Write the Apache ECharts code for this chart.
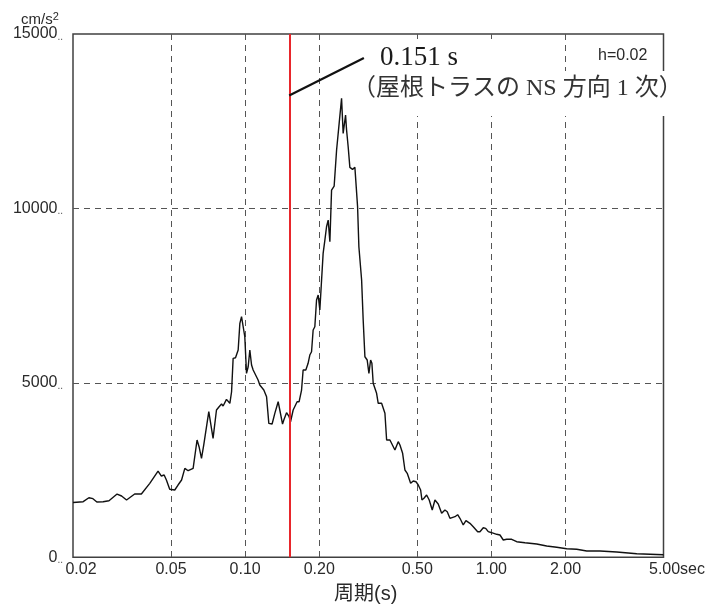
<!DOCTYPE html>
<html>
<head>
<meta charset="utf-8">
<script src="https://cdn.jsdelivr.net/npm/echarts@6/dist/echarts.min.js"></script>
<style>html,body{margin:0;padding:0;background:#fff}#c{width:711px;height:610px}</style>
</head>
<body>
<div id="c"></div>
<script>
// ---- data ----
const xTickValues = [0.02, 0.05, 0.1, 0.2, 0.5, 1, 2, 5];
const xTickLabels = ['0.02', '0.05', '0.10', '0.20', '0.50', '1.00', '2.00', '5.00'];
const yTicks = [0, 5000, 10000, 15000];
const markedPeriod = 0.151;
const dampingLabel = 'h=0.02';

const periods = [
  0.0200,0.0220,0.0232,0.0241,0.0250,0.0265,0.0280,0.0302,0.0315,0.0330,
  0.0356,0.0379,0.0410,0.0443,0.0457,0.0469,0.0479,0.0494,0.0518,0.0534,
  0.0552,0.0569,0.0587,0.0615,0.0638,0.0650,0.0665,0.0679,0.0712,0.0725,
  0.0741,0.0765,0.0784,0.0802,0.0814,0.0840,0.0867,0.0881,0.0894,0.0914,
  0.0937,0.0952,0.0967,0.0982,0.0997,0.1013,0.1029,0.1045,0.1062,0.1078,
  0.1095,0.1129,0.1147,0.1191,0.1222,0.1248,0.1287,0.1320,0.1362,0.1383,
  0.1419,0.1436,0.1473,0.1509,0.1529,0.1567,0.1626,0.1657,0.1695,0.1720,
  0.1764,0.1802,0.1831,0.1861,0.1889,0.1919,0.1950,0.1980,0.2011,0.2044,
  0.2074,0.2108,0.2141,0.2174,0.2209,0.2244,0.2299,0.2352,0.2409,0.2464,
  0.2501,0.2558,0.2582,0.2621,0.2663,0.2731,0.2791,0.2836,0.2862,0.2897,
  0.2972,0.3016,0.3065,0.3131,0.3182,0.3233,0.3272,0.3312,0.3365,0.3419,
  0.3471,0.3583,0.3696,0.3755,0.3873,0.3935,0.4058,0.4186,0.4253,0.4361,
  0.4456,0.4553,0.4700,0.4816,0.4939,0.5047,0.5161,0.5224,0.5323,0.5458,
  0.5592,0.5752,0.5899,0.6084,0.6281,0.6478,0.6619,0.6788,0.7113,0.7295,
  0.7453,0.7687,0.7884,0.8184,0.8441,0.8796,0.8987,0.9269,0.9480,0.9713,
  1.0027,1.0508,1.0837,1.1177,1.1538,1.2091,1.2670,1.3692,1.5275,1.6776,
  1.8422,2.0226,2.2210,2.4392,2.762,3.229,3.894,5.0
];
const accel = [
  1570,1594,1708,1680,1585,1594,1622,1814,1757,1642,
  1814,1814,2120,2473,2330,2359,2215,1949,1929,2072,
  2215,2550,2482,2550,3362,3170,2837,3218,4173,4127,
  3410,4222,4316,4394,4336,4528,4414,4746,5703,5720,
  5941,6706,6896,6944,6322,5273,5463,5941,5511,5368,
  5348,5081,4938,4795,4603,3840,3820,4127,4460,4222,
  3820,3935,4144,4030,3886,4222,4460,4460,4795,5368,
  5368,5560,5798,5893,6515,6610,7374,7518,7088,7948,
  8712,9094,9476,9667,9046,10527,10642,11674,12438,13155,
  12152,12677,12247,11768,11178,11120,11178,11149,10048,8902,
  7948,6801,5749,5655,5273,5655,5560,4987,4938,4700,
  4414,4414,4127,3362,3362,3342,3075,3314,3218,2981,
  2502,2407,2120,2187,2167,2072,1929,1642,1691,1786,
  1642,1356,1642,1528,1261,1356,1307,1118,1164,1221,
  1118,926,1049,974,877,734,734,848,831,734,
  705,659,639,496,516,516,447,418,381,324,
  287,247,229,181,181,152,103,75
];
// leader line of the annotation (period, value) endpoints
const leaderStart = [0.151, 13240];
const leaderEnd = [0.3036, 14310];

// ---- build ----
const L = Math.log10;
const seriesData = periods.map((p, i) => [L(p), accel[i]]);
const xCustom = xTickValues.map(L);

function xLabel(v) {
  let idx = 0, best = 1e9;
  xCustom.forEach((c, i) => { const d = Math.abs(c - v); if (d < best) { best = d; idx = i; } });
  const t = xTickLabels[idx];
  if (idx === 0) return '{f|' + t + '}';
  if (idx === xTickLabels.length - 1) return '{l|' + t + '}{s|sec}';
  return '{n|' + t + '}';
}

const FONT = "'Liberation Sans', Arial, sans-serif";
const chart = echarts.init(document.getElementById('c'), null, {renderer: 'canvas'});
chart.setOption({
  animation: false,
  backgroundColor: '#fff',
  grid: {
    left: 73, right: 47.5, top: 34, bottom: 52.7,
    outerBoundsMode: 'none', containLabel: false,
    show: true, borderColor: '#404040', borderWidth: 1.5, backgroundColor: 'transparent'
  },
  xAxis: {
    type: 'value',
    min: L(xTickValues[0]), max: L(xTickValues[xTickValues.length - 1]),
    axisLine: {show: false},
    axisTick: {show: false, customValues: xCustom},
    axisLabel: {
      customValues: xCustom, margin: 4, formatter: xLabel, color: '#2a2a2a',
      fontFamily: FONT, fontSize: 16,
      rich: {
        n: {fontFamily: FONT, fontSize: 16, color: '#2a2a2a'},
        f: {fontFamily: FONT, fontSize: 16, color: '#2a2a2a', padding: [0, 0, 0, 16]},
        l: {fontFamily: FONT, fontSize: 16, color: '#2a2a2a', padding: [0, 0, 0, 27]},
        s: {fontFamily: FONT, fontSize: 16, color: '#2a2a2a'}
      }
    },
    splitLine: {show: true, showMinLine: false, showMaxLine: false,
      lineStyle: {color: '#555', width: 1, type: [6, 5]}},
    name: '周期(s)', nameLocation: 'middle', nameGap: 27,
    nameTextStyle: {fontFamily: "'Liberation Sans','Noto Sans CJK JP',sans-serif", fontSize: 20, color: '#2a2a2a', padding: [0, 5, 0, 0]}
  },
  yAxis: {
    type: 'value', min: yTicks[0], max: yTicks[yTicks.length - 1], interval: yTicks[1] - yTicks[0],
    axisLine: {show: false}, axisTick: {show: false},
    axisLabel: {
      margin: 10, color: '#2a2a2a', fontFamily: FONT, fontSize: 16,
      formatter: v => '{n|' + v + '}{d|..}',
      rich: {
        n: {fontFamily: FONT, fontSize: 16, color: '#2a2a2a'},
        d: {fontFamily: FONT, fontSize: 10, color: '#555', verticalAlign: 'bottom', padding: [5, 0, 0, 0]}
      }
    },
    splitLine: {show: true, showMinLine: false, showMaxLine: false,
      lineStyle: {color: '#555', width: 1, type: [6, 5]}}
  },
  series: [{
    type: 'line',
    data: seriesData,
    showSymbol: false, symbol: 'none',
    lineStyle: {color: '#111', width: 1.4},
    z: 3,
    markLine: {
      silent: true, symbol: 'none', animation: false,
      label: {show: false},
      data: [
        {xAxis: L(markedPeriod), lineStyle: {color: '#e8262b', width: 2, type: 'solid'}},
        [
          {coord: [L(leaderStart[0]), leaderStart[1]], lineStyle: {color: '#111', width: 2.2, type: 'solid'}},
          {coord: [L(leaderEnd[0]), leaderEnd[1]]}
        ]
      ]
    }
  }],
  graphic: [
    {type: 'rect', z: 100, shape: {x: 366, y: 39, width: 190, height: 33}, style: {fill: '#fff'}},
    {type: 'rect', z: 100, shape: {x: 362, y: 71, width: 310, height: 45}, style: {fill: '#fff'}},
    {type: 'text', z: 101, x: 380, y: 57.5, style: {text: markedPeriod.toFixed(3) + ' s',
      font: "27px 'Liberation Serif', 'Times New Roman', serif", fill: '#1a1a1a', textVerticalAlign: 'middle'}},
    {type: 'text', z: 101, x: 352, y: 89, style: {text: '（屋根トラスの NS 方向 1 次）',
      font: "24px 'Liberation Serif', 'Noto Sans CJK JP', serif", fill: '#333', textVerticalAlign: 'middle'}},
    {type: 'text', z: 101, x: 598, y: 56, style: {text: dampingLabel,
      font: "16px " + FONT, fill: '#2a2a2a', textVerticalAlign: 'middle'}},
    {type: 'text', z: 101, x: 21, y: 11, style: {rich: {
        a: {font: "15px " + FONT, fill: '#2a2a2a'},
        b: {font: "11px " + FONT, fill: '#2a2a2a', padding: [0, 0, 7, 0]}
      }, text: '{a|cm/s}{b|2}'}}
  ]
});
</script>
</body>
</html>
